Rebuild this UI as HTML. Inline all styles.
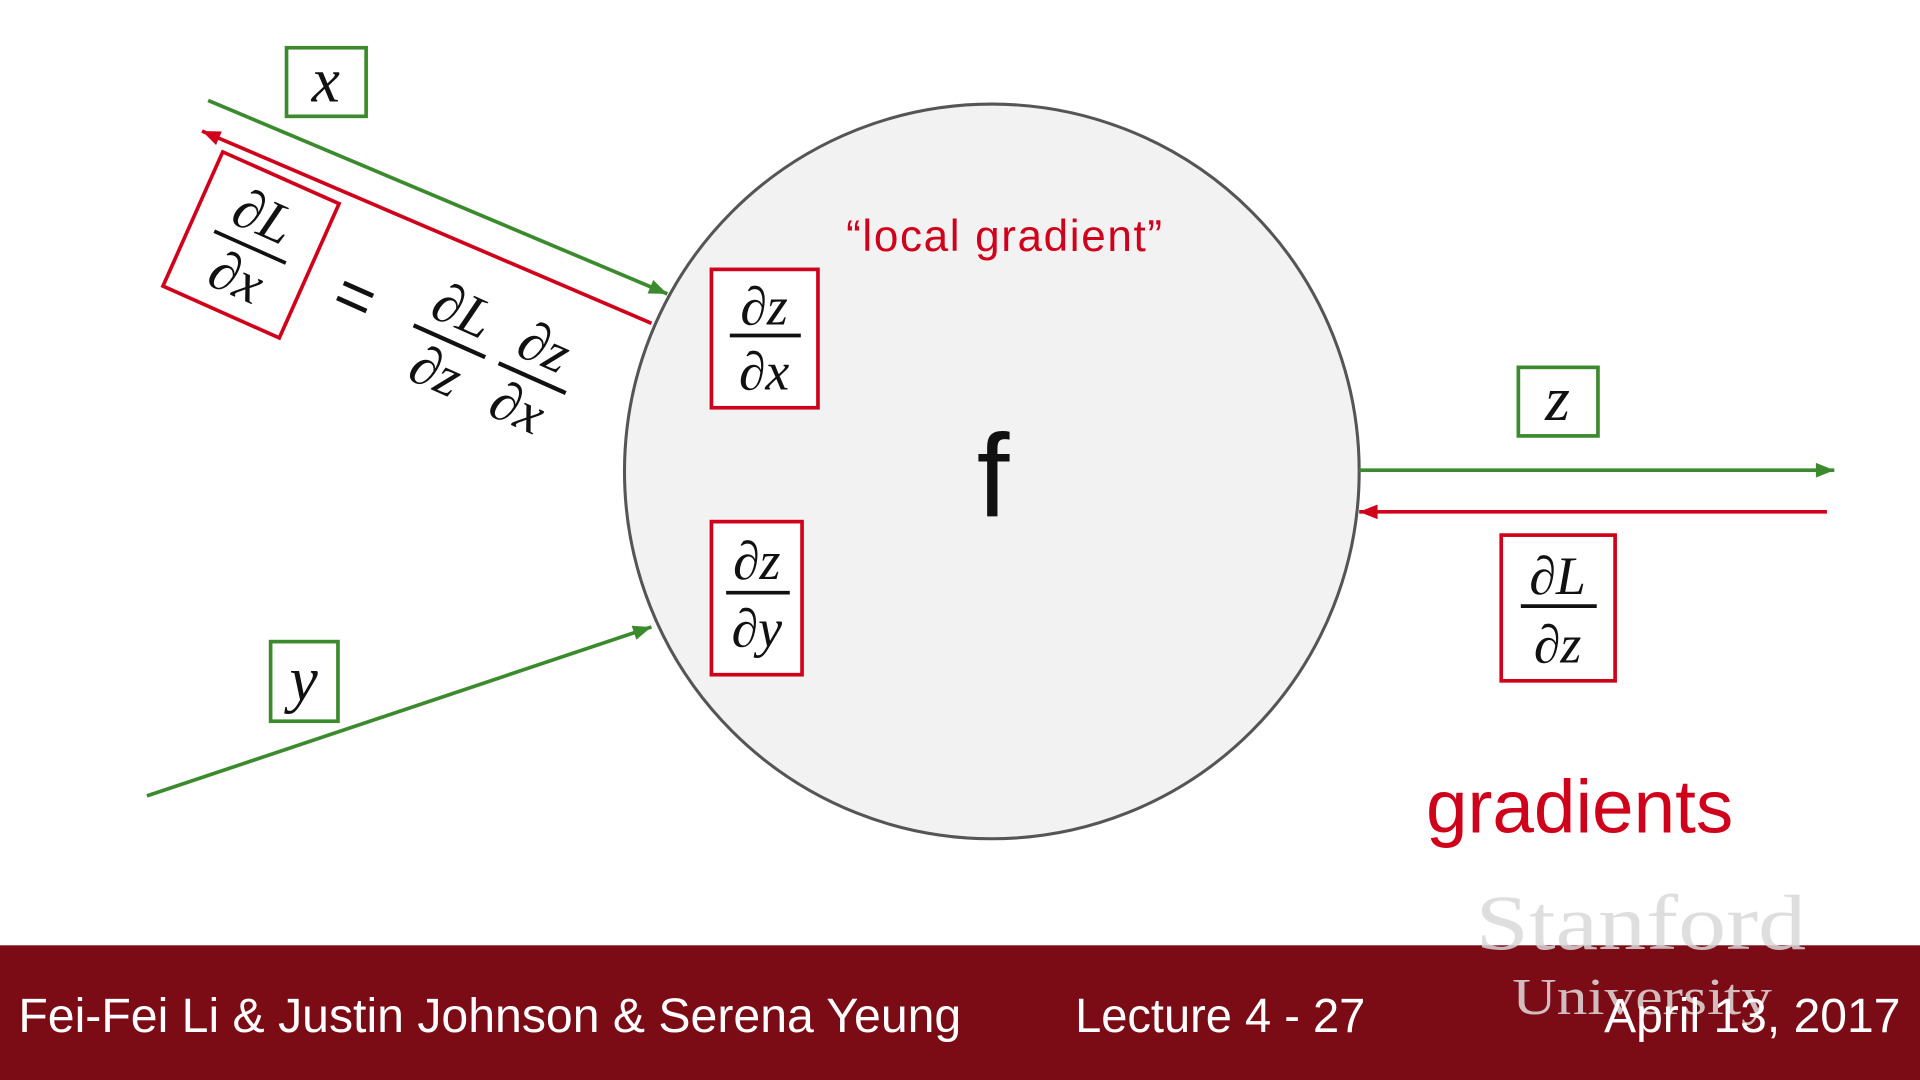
<!DOCTYPE html>
<html><head><meta charset="utf-8"><style>
html,body{margin:0;padding:0;background:#fff;width:1920px;height:1080px;overflow:hidden}
svg{display:block}
.m{font-family:"Liberation Serif",serif;font-style:italic;fill:#111}
.s{font-family:"Liberation Sans",sans-serif}
</style></head><body>
<svg width="1920" height="1080" viewBox="0 0 1568 882" xmlns="http://www.w3.org/2000/svg">
<defs>
<marker id="ag2" viewBox="0 0 10 8" markerWidth="18" markerHeight="12" refX="10" refY="4" orient="auto" markerUnits="userSpaceOnUse"><path d="M0,0 L10,4 L0,8 z" fill="#3c8a2e"/></marker>
<marker id="ar2" viewBox="0 0 10 8" markerWidth="18" markerHeight="12" refX="10" refY="4" orient="auto" markerUnits="userSpaceOnUse"><path d="M0,0 L10,4 L0,8 z" fill="#d0021b"/></marker>
</defs>
<rect width="1568" height="882" fill="#fff"/>
<circle cx="810" cy="385" r="300" fill="#f2f2f2" stroke="#555" stroke-width="2.5"/>
<line x1="170" y1="82" x2="545" y2="240" stroke="#3c8a2e" stroke-width="3" marker-end="url(#ag2)"/>
<line x1="532" y1="264" x2="165" y2="107" stroke="#d0021b" stroke-width="3" marker-end="url(#ar2)"/>
<line x1="120" y1="650" x2="532" y2="512" stroke="#3c8a2e" stroke-width="3" marker-end="url(#ag2)"/>
<line x1="1110" y1="384" x2="1498" y2="384" stroke="#3c8a2e" stroke-width="3" marker-end="url(#ag2)"/>
<line x1="1492" y1="418" x2="1110" y2="418" stroke="#d0021b" stroke-width="3" marker-end="url(#ar2)"/>
<rect x="234" y="39" width="65" height="56" fill="#fff" stroke="#3c8a2e" stroke-width="3"/>
<text x="266" y="83" class="m" font-size="52" text-anchor="middle">x</text>
<rect x="221" y="524" width="55" height="65" fill="#fff" stroke="#3c8a2e" stroke-width="3"/>
<text x="248" y="572" class="m" font-size="52" text-anchor="middle">y</text>
<rect x="1240" y="300" width="65" height="56" fill="#fff" stroke="#3c8a2e" stroke-width="3"/>
<text x="1272" y="343" class="m" font-size="52" text-anchor="middle">z</text>
<text x="820" y="205" class="s" font-size="36" fill="#d0021b" text-anchor="middle" textLength="258">“local gradient”</text>
<text x="811" y="422" class="s" font-size="96" fill="#111" text-anchor="middle">f</text>
<rect x="581" y="220" width="87" height="113" fill="#fff" stroke="#d0021b" stroke-width="3"/>
<text x="624" y="265" class="m" font-size="44" text-anchor="middle">∂z</text>
<line x1="596" y1="274" x2="654" y2="274" stroke="#111" stroke-width="3"/>
<text x="624" y="318" class="m" font-size="44" text-anchor="middle">∂x</text>
<rect x="581" y="426" width="74" height="125" fill="#fff" stroke="#d0021b" stroke-width="3"/>
<text x="618" y="473" class="m" font-size="44" text-anchor="middle">∂z</text>
<line x1="593" y1="484" x2="645" y2="484" stroke="#111" stroke-width="3"/>
<text x="618" y="528" class="m" font-size="44" text-anchor="middle">∂y</text>
<rect x="1226" y="437" width="93" height="119" fill="#fff" stroke="#d0021b" stroke-width="3"/>
<text x="1272" y="485" class="m" font-size="44" text-anchor="middle">∂L</text>
<line x1="1242" y1="495" x2="1304" y2="495" stroke="#111" stroke-width="3"/>
<text x="1272" y="541" class="m" font-size="44" text-anchor="middle">∂z</text>
<text x="1290" y="680" class="s" font-size="61" fill="#d0021b" text-anchor="middle">gradients</text>
<g transform="translate(205,200) rotate(24)">
<rect x="-52" y="-60" width="104" height="120" fill="#fff" stroke="#d0021b" stroke-width="3"/>
<text x="0" y="-10" class="m" font-size="46" text-anchor="middle">∂L</text>
<line x1="-32" y1="2" x2="32" y2="2" stroke="#111" stroke-width="3"/>
<text x="0" y="44" class="m" font-size="46" text-anchor="middle">∂x</text>
<text x="95" y="22" class="s" font-size="54" fill="#111" text-anchor="middle">=</text>
<text x="180" y="-6" class="m" font-size="46" text-anchor="middle">∂L</text>
<line x1="148" y1="6" x2="212" y2="6" stroke="#111" stroke-width="3.5"/>
<text x="180" y="48" class="m" font-size="46" text-anchor="middle">∂z</text>
<text x="253" y="-6" class="m" font-size="46" text-anchor="middle">∂z</text>
<line x1="224" y1="6" x2="284" y2="6" stroke="#111" stroke-width="3.5"/>
<text x="253" y="48" class="m" font-size="46" text-anchor="middle">∂x</text>
</g>
<rect x="0" y="772" width="1568" height="110" fill="#7b0b14"/>
<text x="1205" y="775" font-family="Liberation Serif,serif" font-size="64" fill="#d8d8d8" fill-opacity="0.85" textLength="270" lengthAdjust="spacingAndGlyphs">Stanford</text>
<text x="1235" y="828" font-family="Liberation Serif,serif" font-size="42" fill="#e8e8e8" fill-opacity="0.8" textLength="212" lengthAdjust="spacingAndGlyphs">University</text>
<text x="15" y="843" class="s" font-size="39" fill="#fff" textLength="770" lengthAdjust="spacingAndGlyphs">Fei-Fei Li &amp; Justin Johnson &amp; Serena Yeung</text>
<text x="878" y="843" class="s" font-size="39" fill="#fff" textLength="237" lengthAdjust="spacingAndGlyphs">Lecture 4 - 27</text>
<text x="1310" y="843" class="s" font-size="39" fill="#fff" textLength="242" lengthAdjust="spacingAndGlyphs">April 13, 2017</text>
</svg>
</body></html>
